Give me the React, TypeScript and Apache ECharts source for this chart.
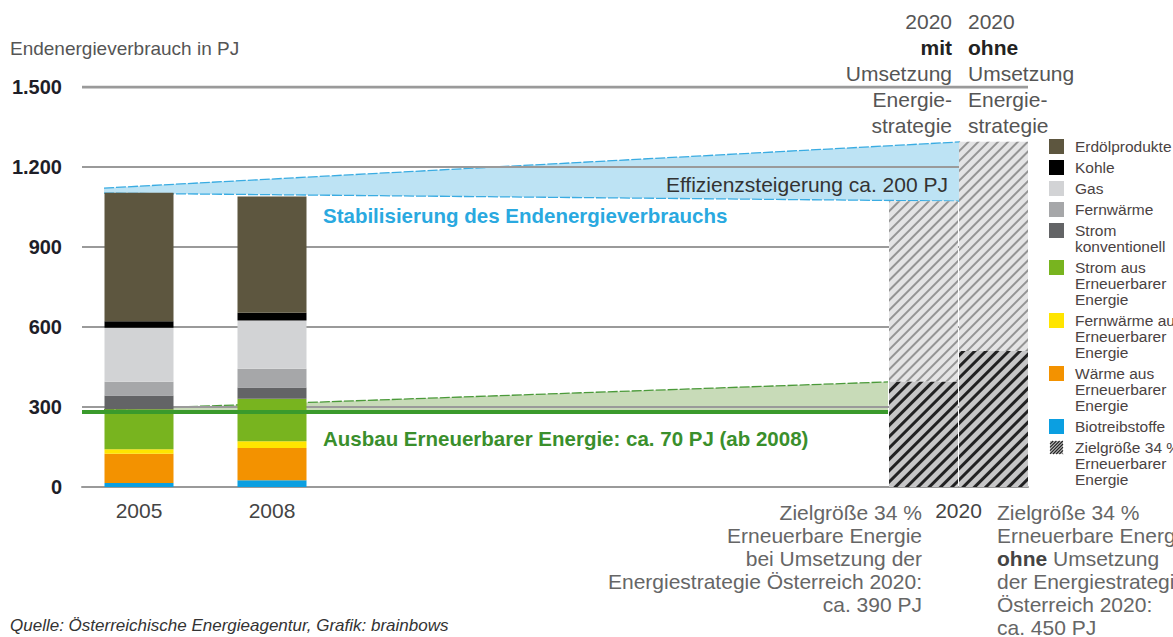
import React, { useEffect, useRef } from 'react';
import * as echarts from 'echarts';

const FF = "'Liberation Sans', Arial, Helvetica, sans-serif";

// ---------- data ----------
const barCategories = ['2005', '2008', '2020 mit', '2020 ohne'];
const barPositions = [5.7, 19.0, 84.15, 91.15]; // position on hidden x scale (1 unit = 10 px)
const xTickLabels = ['2005', '2008', '2020'];
const xTickPositions = [5.7, 19.0, 87.65];

const yTicks = [0, 300, 600, 900, 1200, 1500];

const seriesNames = [
  'Biotreibstoffe',
  'Wärme aus Erneuerbarer Energie',
  'Fernwärme aus Erneuerbarer Energie',
  'Strom aus Erneuerbarer Energie',
  'Strom konventionell',
  'Fernwärme',
  'Gas',
  'Kohle',
  'Erdölprodukte',
];
const seriesColors = ['#0b9fe1', '#f39200', '#ffe500', '#78b41f', '#636466', '#a6a7a9', '#d2d3d5', '#000000', '#5d563f'];

const biotreibstoffe = [15, 25, 0, 0];
const waermeEE = [110, 121, 0, 0];
const fernwaermeEE = [17, 26, 0, 0];
const stromEE = [150, 159, 0, 0];
const stromKonv = [51, 42, 0, 0];
const fernwaerme = [52, 70, 0, 0];
const gas = [202, 181, 0, 0];
const kohle = [25, 29, 0, 0];
const erdoel = [481, 436, 0, 0];
const seriesValues = [biotreibstoffe, waermeEE, fernwaermeEE, stromEE, stromKonv, fernwaerme, gas, kohle, erdoel];

const zielEE2020 = [0, 0, 396, 510];
const rest2020 = [0, 0, 676, 785];

// bands: xStart, topStart, bottomStart, xEnd, topEnd, bottomEnd
const effizienzBand = [2.2, 1121, 1102, 87.8, 1294, 1072];
const ausbauBand = [2.2, 290, 285, 80.6, 394, 285];
const ausbauLevel = [[0, 281], [80.6, 281]];
const topLine = [[0, 1500], [94.6, 1500]];

// legend
const legendLabels = [
  'Erdölprodukte',
  'Kohle',
  'Gas',
  'Fernwärme',
  'Strom\nkonventionell',
  'Strom aus\nErneuerbarer\nEnergie',
  'Fernwärme aus\nErneuerbarer\nEnergie',
  'Wärme aus\nErneuerbarer\nEnergie',
  'Biotreibstoffe',
  'Zielgröße 34 %\nErneuerbarer\nEnergie',
];
const legendColors = ['#5d563f', '#000000', '#d2d3d5', '#a6a7a9', '#636466', '#78b41f', '#ffe500', '#f39200', '#0b9fe1', 'hatch'];

// annotation texts
const topLeftLines = ['2020', '{b|mit}', 'Umsetzung', 'Energie-', 'strategie'];
const topRightLines = ['2020', '{b|ohne}', 'Umsetzung', 'Energie-', 'strategie'];
const bottomLeftLines = ['Zielgröße 34 %', 'Erneuerbare Energie', 'bei Umsetzung der', 'Energiestrategie Österreich 2020:', 'ca. 390 PJ'];
const bottomRightLines = ['Zielgröße 34 %', 'Erneuerbare Energie', '{b|ohne} Umsetzung', 'der Energiestrategie', 'Österreich 2020:', 'ca. 450 PJ'];

function fmtY(v: number) {
  if (v >= 1000) return `${Math.floor(v / 1000)}.${String(v % 1000).padStart(3, '0')}`;
  return String(v);
}

function bandRenderer(fill: string, stroke: string) {
  return (params: any, api: any) => {
    const a = api.coord([api.value(0), api.value(1)]);
    const b = api.coord([api.value(3), api.value(4)]);
    const c = api.coord([api.value(3), api.value(5)]);
    const d = api.coord([api.value(0), api.value(2)]);
    return {
      type: 'group',
      children: [
        { type: 'polygon', shape: { points: [a, b, c, d] }, style: { fill } },
        { type: 'polyline', shape: { points: [a, b] }, style: { stroke, lineWidth: 1.3, lineDash: [10, 2], fill: null } },
        { type: 'polyline', shape: { points: [d, c] }, style: { stroke, lineWidth: 1.3, lineDash: [10, 2], fill: null } },
      ],
    };
  };
}

function hatchIcon(x: number, y: number, s: number) {
  const children: any[] = [{ type: 'rect', shape: { x, y, width: s, height: s }, style: { fill: '#bdbdbd' } }];
  const step = 3.2;
  for (let c = step; c < 2 * s; c += step) {
    let p1, p2;
    if (c <= s) { p1 = [x, y + c]; p2 = [x + c, y]; } else { p1 = [x + c - s, y + s]; p2 = [x + s, y + c - s]; }
    children.push({ type: 'line', shape: { x1: p1[0], y1: p1[1], x2: p2[0], y2: p2[1] }, style: { stroke: '#222', lineWidth: 1.1 } });
  }
  return { type: 'group', children };
}

function textEl(text: string, x: number, y: number, opts: any = {}) {
  const align = opts.align || 'left';
  const vAlign = opts.verticalAlign || 'middle';
  return {
    type: 'text',
    style: {
      text, x, y,
      fill: opts.fill || '#555',
      fontSize: opts.fontSize || 21,
      fontFamily: opts.fontFamily || FF,
      fontWeight: opts.fontWeight || 'normal',
      fontStyle: opts.fontStyle || 'normal',
      lineHeight: opts.lineHeight,
      align, textAlign: align,
      verticalAlign: vAlign, textVerticalAlign: vAlign,
      rich: opts.rich,
    },
    z: 10,
  };
}

export default function App() {
  const ref = useRef<HTMLDivElement>(null);

  useEffect(() => {
    if (!ref.current) return;
    const chart = echarts.init(ref.current, undefined, { renderer: 'svg' });

    const darkDecal = {
      symbol: 'rect', symbolSize: 1, color: 'rgba(15,15,15,0.9)',
      dashArrayX: [1, 0], dashArrayY: [2.2, 4.3], rotation: -Math.PI / 4,
    };
    const lightDecal = {
      symbol: 'rect', symbolSize: 1, color: 'rgba(140,140,140,0.9)',
      dashArrayX: [1, 0], dashArrayY: [1.5, 5], rotation: -Math.PI / 4,
    };

    // data columns: [value, position]; encode puts the value first so it is the stacked dimension
    const barSeries: any[] = seriesNames.map((name, i) => ({
      name,
      type: 'bar',
      stack: 'total',
      barWidth: 69,
      encode: { x: 1, y: 0 },
      data: barPositions.map((p, j) => [seriesValues[i][j], p]),
      itemStyle: { color: seriesColors[i] },
      z: 2,
    }));
    barSeries.push({
      name: 'Zielgröße 34 % Erneuerbarer Energie',
      type: 'bar', stack: 'total', barWidth: 69,
      encode: { x: 1, y: 0 },
      data: barPositions.map((p, j) => [zielEE2020[j], p]),
      itemStyle: { color: '#c6c6c7', decal: darkDecal },
      z: 2,
    });
    barSeries.push({
      name: '2020 Rest',
      type: 'bar', stack: 'total', barWidth: 69,
      encode: { x: 1, y: 0 },
      data: barPositions.map((p, j) => [rest2020[j], p]),
      itemStyle: { color: '#e4e4e5', decal: lightDecal },
      z: 2,
    });

    const legendGraphics: any[] = [];
    let top = 139;
    legendLabels.forEach((label, i) => {
      const lines = label.split('\n').length;
      if (legendColors[i] === 'hatch') {
        legendGraphics.push(hatchIcon(1050, top + 1, 13));
      } else {
        legendGraphics.push({ type: 'rect', shape: { x: 1049, y: top, width: 15, height: 15 }, style: { fill: legendColors[i] }, z: 10 });
      }
      legendGraphics.push(textEl(label, 1075, top - 0.5, { fontSize: 15.5, lineHeight: 16, verticalAlign: 'top', fill: '#4a4242' }));
      top += lines * 16 + 5;
    });

    const rich = { b: { fontWeight: 'bold', fill: '#222', color: '#222', fontSize: 21, fontFamily: FF } };
    const annot: any[] = [];
    topLeftLines.forEach((t, i) => annot.push(textEl(t, 952, 21 + i * 26, { align: 'right', rich })));
    topRightLines.forEach((t, i) => annot.push(textEl(t, 968, 21 + i * 26, { align: 'left', rich })));
    bottomLeftLines.forEach((t, i) => annot.push(textEl(t, 922, 512 + i * 23, { align: 'right', fill: '#666' })));
    bottomRightLines.forEach((t, i) => annot.push(textEl(t, 997, 512 + i * 23, { align: 'left', fill: '#666', rich: { b: { ...rich.b, fill: '#444', color: '#444' } } })));

    annot.push(textEl('Endenergieverbrauch in PJ', 10, 48, { fontSize: 19, fill: '#555' }));
    annot.push(textEl('Effizienzsteigerung ca. 200 PJ', 948, 184, { align: 'right', fontSize: 21, fill: '#333' }));
    annot.push(textEl('Stabilisierung des Endenergieverbrauchs', 323, 215, { fontSize: 20.5, fontWeight: 'bold', fill: '#2aa9e0' }));
    annot.push(textEl('Ausbau Erneuerbarer Energie: ca. 70 PJ (ab 2008)', 323, 438, { fontSize: 20.5, fontWeight: 'bold', fill: '#3a8f2c' }));
    annot.push(textEl('Quelle: Österreichische Energieagentur, Grafik: brainbows', 10, 625, { fontSize: 17, fontStyle: 'italic', fill: '#333' }));

    const option: any = {
      animation: false,
      backgroundColor: '#ffffff',
      grid: { left: 82, right: 145, top: 87, bottom: 150, containLabel: false },
      xAxis: {
        type: 'value', min: 0, max: 94.6, z: 1,
        axisLine: { show: true, lineStyle: { color: '#9a9a9a', width: 2 } },
        axisTick: { show: false }, axisLabel: { show: false }, splitLine: { show: false },
      },
      yAxis: {
        type: 'value', min: 0, max: 1500, interval: 300, z: 1,
        axisLine: { show: false }, axisTick: { show: false },
        axisLabel: { formatter: fmtY, fontSize: 20, fontWeight: 'bold', color: '#1e1e28', fontFamily: FF, margin: 20 },
        splitLine: { show: true, lineStyle: { color: '#9a9a9a', width: 1.8 } },
      },
      series: [
        {
          name: 'Effizienzsteigerung', type: 'custom', z: 0, silent: true,
          renderItem: bandRenderer('#bde3f4', '#3aace2'),
          encode: { x: [0, 3], y: [1, 2, 4, 5] },
          data: [effizienzBand],
        },
        {
          name: 'Ausbau', type: 'custom', z: 0, silent: true,
          renderItem: bandRenderer('#c8dbb8', '#4b9a3a'),
          encode: { x: [0, 3], y: [1, 2, 4, 5] },
          data: [ausbauBand],
        },
        ...barSeries,
        {
          name: 'Ausbau Niveau', type: 'line', symbol: 'none', z: 5, silent: true,
          lineStyle: { color: '#3a9a2c', width: 4 },
          data: ausbauLevel,
        },
        {
          name: '1500', type: 'line', symbol: 'none', z: 1, silent: true,
          lineStyle: { color: '#9a9a9a', width: 3 },
          data: topLine,
        },
        {
          name: 'xLabels', type: 'custom', z: 6, silent: true,
          renderItem: (params: any, api: any) => {
            const p = api.coord([api.value(0), api.value(1)]);
            return {
              type: 'text',
              style: {
                text: xTickLabels[params.dataIndex], x: p[0], y: p[1] + 23,
                fill: '#444', fontSize: 21, fontFamily: FF,
                align: 'center', textAlign: 'center', verticalAlign: 'middle', textVerticalAlign: 'middle',
              },
            };
          },
          data: xTickPositions.map((p) => [p, 0]),
        },
      ],
      graphic: { elements: [...legendGraphics, ...annot] },
    };

    chart.setOption(option);
    return () => chart.dispose();
  }, []);

  return <div ref={ref} style={{ position: 'fixed', left: 0, top: 0, width: 1173, height: 637 }} />;
}
